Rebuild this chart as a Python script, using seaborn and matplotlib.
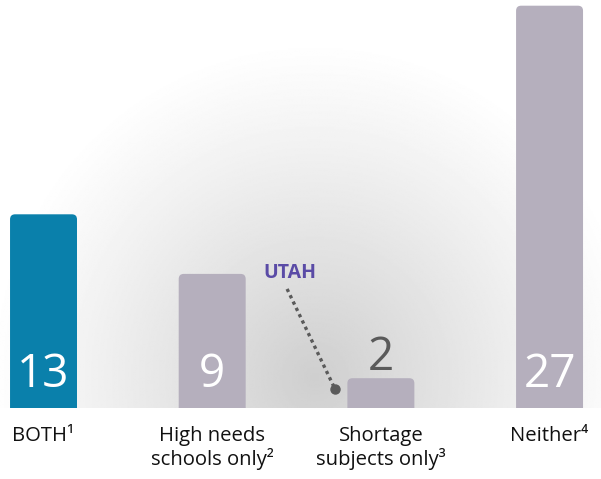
import numpy as np
import pandas as pd
import matplotlib
matplotlib.use("Agg")
import matplotlib.pyplot as plt
from matplotlib.patches import FancyBboxPatch
import seaborn as sns

categories = ["BOTH¹", "High needs\nschools only²", "Shortage\nsubjects only³", "Neither⁴"]
counts = [13, 9, 2, 27]
bar_colors = ["#0a80ab", "#b5afbd", "#b5afbd", "#b5afbd"]
highlight_label = "UTAH"

sns.set_theme(style="white")
plt.rcParams["font.family"] = ["Open Sans", "DejaVu Sans"]

df = pd.DataFrame({"category": categories, "count": counts})

W, H, DPI = 601, 479, 100
PX_PER_X = 168.67   # pixels per category step
PX_PER_Y = 14.9     # pixels per count unit
fig = plt.figure(figsize=(W / DPI, H / DPI), dpi=DPI)

# soft radial grey backdrop behind the bars
bg = fig.add_axes([0, 71 / H, 1, 408 / H], zorder=0)
gx, gy = np.meshgrid(np.linspace(0, W, 400), np.linspace(0, 408, 300))
r = np.sqrt(((gx - 315) / 330) ** 2 + ((gy - 30) / 340) ** 2)
shade = 1 - 0.19 * np.clip(1 - r, 0, 1) ** 1.1
bg.imshow(shade, cmap="gray", vmin=0, vmax=1, extent=[0, W, 0, 408],
          origin="lower", aspect="auto", interpolation="bilinear")
bg.axis("off")

ax = fig.add_axes([0, 71 / H, 1, 408 / H], zorder=1)
ax.patch.set_alpha(0)
sns.barplot(data=df, x="category", y="count", hue="category",
            palette=bar_colors, legend=False, width=0.397, ax=ax,
            saturation=1)

# replace square bars with top-rounded ones (bottom corners clipped at baseline)
for p in list(ax.patches):
    x0, w, h = p.get_x(), p.get_width(), p.get_height()
    fc = p.get_facecolor()
    p.remove()
    ax.add_patch(FancyBboxPatch((x0, -1), w, h + 1,
                                boxstyle="round,pad=0,rounding_size=0.03",
                                mutation_aspect=PX_PER_X / PX_PER_Y,
                                facecolor=fc, edgecolor="none", clip_on=True))

ax.set_xlim(-0.258, 3.305)
ax.set_ylim(0, 408 / PX_PER_Y)
ax.set_xlabel("")
ax.set_ylabel("")
ax.set_yticks([])
ax.tick_params(axis="x", length=0, pad=13, labelsize=14.6, labelcolor="#111111")
for lbl in ax.get_xticklabels():
    lbl.set_linespacing(1.1)
for s in ax.spines.values():
    s.set_visible(False)

# value labels
for i, v in enumerate(counts):
    if v >= 5:
        ax.text(i, 1.4, str(v), ha="center", va="baseline", fontsize=33,
                color="white")
    else:
        ax.text(i, v + 0.55, str(v), ha="center", va="baseline", fontsize=33,
                color="#5a5a5a")

# callout for the state
ax.text(1.461, 8.72, highlight_label, ha="center", va="baseline",
        fontsize=14, fontweight="bold", color="#5a4ba6")
ax.plot([1.444, 1.728], [7.99, 1.275], color="#5a5a5a", lw=2.4,
        linestyle=(0, (1, 1.1)))
ax.plot([1.728], [1.275], "o", color="#5a5a5a", ms=6.5)

fig.savefig("out.png", dpi=DPI, facecolor="white")
